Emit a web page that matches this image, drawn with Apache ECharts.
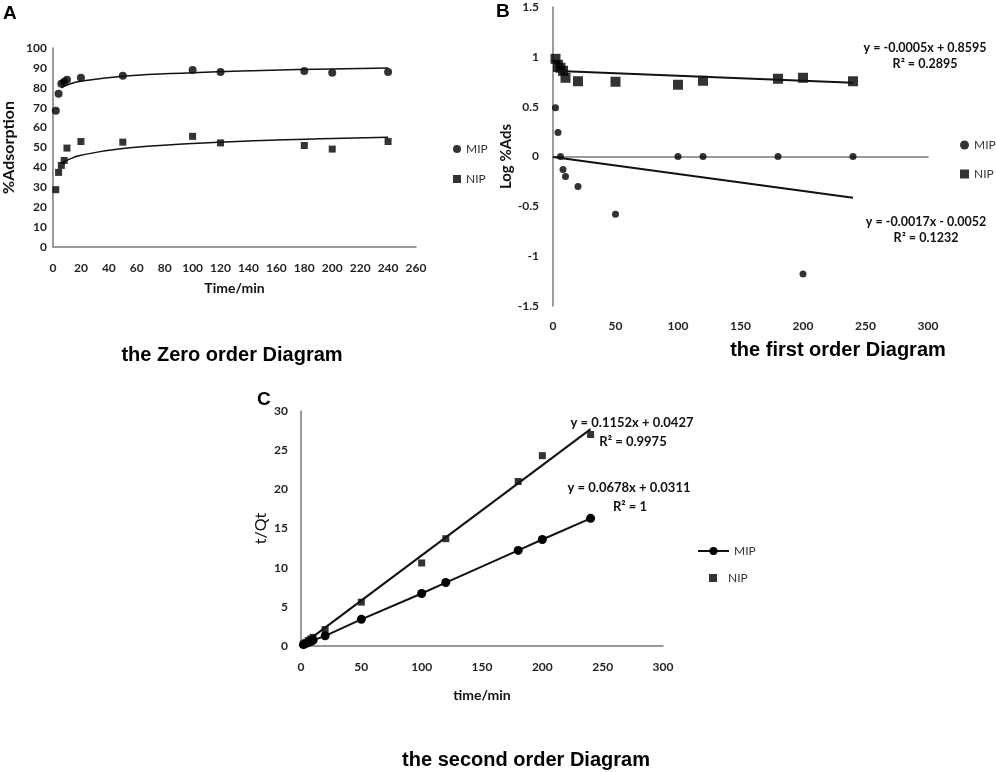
<!DOCTYPE html>
<html>
<head>
<meta charset="utf-8">
<script src="https://cdn.jsdelivr.net/npm/echarts@6/dist/echarts.min.js"></script>
<style>html,body{margin:0;padding:0;background:#fff}#c{width:996px;height:772px}</style>
</head>
<body>
<div id="c"></div>
<script>
// ---- data ----
const times = [2, 4, 6, 8, 10, 20, 50, 100, 120, 180, 200, 240];
// Panel A: zero order (%Adsorption)
const zeroMIP = [68.5, 77, 82, 83, 84, 85, 86.1, 89, 88, 88.5, 87.6, 88];
const zeroNIP = [28.8, 37.5, 41, 43.5, 49.7, 53, 52.7, 55.6, 52.3, 51, 49.2, 53];
// logarithmic trend curves
const zeroFitX = [6, 10, 20, 50, 100, 150, 200, 240];
const zeroFitMIP = [80.0, 81.4, 83.3, 85.8, 87.6, 88.7, 89.5, 90.0];
const zeroFitNIPX = [7, 10, 20, 50, 100, 150, 200, 240];
const zeroFitNIP = [42.3, 43.6, 46.1, 49.5, 52.0, 53.5, 54.5, 55.2];
// Panel B: first order (Log %Ads)
const firstMIP = [0.49, 0.24, 0, -0.13, -0.2, -0.3, -0.58, 0, 0, 0, -1.18, 0];
const firstNIP = [0.98, 0.92, 0.89, 0.86, 0.79, 0.755, 0.75, 0.72, 0.76, 0.78, 0.79, 0.755];
const firstFitX = [0, 240];
const firstFitNIP = [0.8595, 0.7395];
const firstFitMIP = [-0.0052, -0.4132];
// Panel C: second order (t/Qt)
const secondMIP = [0.17, 0.3, 0.44, 0.57, 0.71, 1.3, 3.4, 6.7, 8.1, 12.2, 13.6, 16.3];
const secondNIP = [0.25, 0.45, 0.7, 0.9, 1.1, 2.1, 5.6, 10.6, 13.7, 21, 24.3, 27];
const secondFitX = [0, 240];
const secondFitNIP = [0.0427, 27.69];
// tick settings
const zeroXTicks = {min: 0, max: 260, interval: 20};
const zeroYTicks = {min: 0, max: 100, interval: 10};
const firstXTicks = {min: 0, max: 300, interval: 50};
const firstYTicks = {min: -1.5, max: 1.5, interval: 0.5};
const secondXTicks = {min: 0, max: 300, interval: 50};
const secondYTicks = {min: 0, max: 30, interval: 5};
// texts
const eqFirstNIP = ['y = -0.0005x + 0.8595', 'R² = 0.2895'];
const eqFirstMIP = ['y = -0.0017x - 0.0052', 'R² = 0.1232'];
const eqSecondNIP = ['y = 0.1152x + 0.0427', 'R² = 0.9975'];
const eqSecondMIP = ['y = 0.0678x + 0.0311', 'R² = 1'];

const pair = (xs, ys) => xs.map((x, i) => [x, ys[i]]);

const FONT = 'Lato, "Open Sans", sans-serif';
const TICK = {fontFamily: FONT, fontWeight: 'bold', fontSize: 12, color: '#1f1f2a'};
const AXLINE = {show: true, onZero: true, lineStyle: {color: '#7a7a7a', width: 1.5}};

function valAxis(grid, t, extra) {
  return Object.assign({
    type: 'value', gridIndex: grid, min: t.min, max: t.max, interval: t.interval,
    axisLine: AXLINE, axisTick: {show: false}, splitLine: {show: false},
    axisLabel: Object.assign({}, TICK)
  }, extra || {});
}

const chart = echarts.init(document.getElementById('c'));
const nameFmt = n => n.split(':')[1];
const TITLE_FONT = 'bold 20px "Liberation Sans", Arial, sans-serif';

const option = {
  backgroundColor: '#fff',
  animation: false,
  grid: [
    {left: 52, top: 48, width: 364, height: 199},
    {left: 553, top: 7, width: 375, height: 299},
    {left: 301, top: 411, width: 362, height: 235}
  ],
  xAxis: [
    valAxis(0, zeroXTicks, {axisLabel: Object.assign({}, TICK, {margin: 15}),
      name: 'Time/min', nameLocation: 'middle', nameGap: 34,
      nameTextStyle: {fontFamily: FONT, fontWeight: 'bold', fontSize: 14, color: '#111'}}),
    valAxis(1, firstXTicks, {axisLabel: Object.assign({}, TICK, {margin: 14})}),
    valAxis(2, secondXTicks, {axisLabel: Object.assign({}, TICK, {margin: 15}),
      name: 'time/min', nameLocation: 'middle', nameGap: 42,
      nameTextStyle: {fontFamily: FONT, fontWeight: 'bold', fontSize: 14, color: '#111'}})
  ],
  yAxis: [
    valAxis(0, zeroYTicks, {axisLabel: Object.assign({}, TICK, {margin: 6}),
      name: '%Adsorption', nameLocation: 'middle', nameGap: 36,
      nameTextStyle: {fontFamily: FONT, fontWeight: 'bold', fontSize: 16, color: '#111'}}),
    valAxis(1, firstYTicks, {axisLabel: Object.assign({}, TICK, {margin: 14}),
      name: 'Log %Ads', nameLocation: 'middle', nameGap: 28,
      nameTextStyle: {fontFamily: FONT, fontWeight: 'bold', fontSize: 15, color: '#111'}}),
    valAxis(2, secondYTicks, {axisLabel: Object.assign({}, TICK, {margin: 13}),
      name: 't/Qt', nameLocation: 'middle', nameGap: 32,
      nameTextStyle: {fontFamily: FONT, fontSize: 16, color: '#111'}})
  ],
  legend: [
    {orient: 'vertical', left: 448, top: 138, itemWidth: 8, itemHeight: 8, itemGap: 18,
     formatter: nameFmt, textStyle: {fontFamily: FONT, fontSize: 12, color: '#333'},
     data: [{name: 'A:MIP', icon: 'circle'}, {name: 'A:NIP', icon: 'rect'}]},
    {orient: 'vertical', left: 960, top: 139, padding: 0, itemWidth: 9, itemHeight: 9, itemGap: 17,
     formatter: nameFmt, textStyle: {fontFamily: FONT, fontSize: 12, color: '#333'},
     data: [{name: 'B:MIP', icon: 'circle'}, {name: 'B:NIP', icon: 'rect'}]},
    {orient: 'vertical', left: 692, top: 540, itemWidth: 31, itemHeight: 10,
     formatter: nameFmt, textStyle: {fontFamily: FONT, fontSize: 12, color: '#333'},
     data: [{name: 'C:MIP'}]},
    {orient: 'vertical', left: 704, top: 567, itemWidth: 8, itemHeight: 8,
     formatter: nameFmt, textStyle: {fontFamily: FONT, fontSize: 12, color: '#333', padding: [0, 0, 0, 6]},
     data: [{name: 'C:NIP', icon: 'rect'}]}
  ],
  series: [
    // Panel A
    {name: 'A:MIP', type: 'scatter', xAxisIndex: 0, yAxisIndex: 0, symbol: 'circle', symbolSize: 8,
     itemStyle: {color: '#000'}, data: pair(times, zeroMIP)},
    {name: 'A:NIP', type: 'scatter', xAxisIndex: 0, yAxisIndex: 0, symbol: 'rect', symbolSize: 7,
     itemStyle: {color: '#000'}, data: pair(times, zeroNIP)},
    {name: 'A:fitMIP', type: 'line', xAxisIndex: 0, yAxisIndex: 0, smooth: true, showSymbol: false,
     lineStyle: {color: '#111', width: 1.5}, data: pair(zeroFitX, zeroFitMIP)},
    {name: 'A:fitNIP', type: 'line', xAxisIndex: 0, yAxisIndex: 0, smooth: true, showSymbol: false,
     lineStyle: {color: '#111', width: 1.5}, data: pair(zeroFitNIPX, zeroFitNIP)},
    // Panel B
    {name: 'B:MIP', type: 'scatter', xAxisIndex: 1, yAxisIndex: 1, symbol: 'circle', symbolSize: 7,
     itemStyle: {color: '#000'}, data: pair(times, firstMIP)},
    {name: 'B:NIP', type: 'scatter', xAxisIndex: 1, yAxisIndex: 1, symbol: 'rect', symbolSize: 10,
     itemStyle: {color: '#000'}, data: pair(times, firstNIP)},
    {name: 'B:fitNIP', type: 'line', xAxisIndex: 1, yAxisIndex: 1, showSymbol: false,
     lineStyle: {color: '#111', width: 2}, data: pair(firstFitX, firstFitNIP)},
    {name: 'B:fitMIP', type: 'line', xAxisIndex: 1, yAxisIndex: 1, showSymbol: false,
     lineStyle: {color: '#111', width: 2}, data: pair(firstFitX, firstFitMIP)},
    // Panel C
    {name: 'C:fitNIP', type: 'line', xAxisIndex: 2, yAxisIndex: 2, showSymbol: false,
     lineStyle: {color: '#111', width: 2}, data: pair(secondFitX, secondFitNIP)},
    {name: 'C:MIP', type: 'line', xAxisIndex: 2, yAxisIndex: 2, symbol: 'circle', symbolSize: 9,
     showAllSymbol: true, itemStyle: {color: '#000'}, lineStyle: {color: '#111', width: 2},
     data: pair(times, secondMIP)},
    {name: 'C:NIP', type: 'scatter', xAxisIndex: 2, yAxisIndex: 2, symbol: 'rect', symbolSize: 7,
     itemStyle: {color: '#000'}, data: pair(times, secondNIP)}
  ],
  graphic: [
    {type: 'text', left: 3, top: 4, style: {text: 'A', font: 'bold 19px "Liberation Sans", Arial, sans-serif', fill: '#000'}},
    {type: 'text', left: 496, top: 2, style: {text: 'B', font: 'bold 19px "Liberation Sans", Arial, sans-serif', fill: '#000'}},
    {type: 'text', left: 257, top: 390, style: {text: 'C', font: 'bold 19px "Liberation Sans", Arial, sans-serif', fill: '#000'}},
    {type: 'text', x: 232, y: 355, style: {text: 'the Zero order Diagram', font: TITLE_FONT, fill: '#000', textAlign: 'center', textVerticalAlign: 'middle'}},
    {type: 'text', x: 838, y: 350, style: {text: 'the first order Diagram', font: TITLE_FONT, fill: '#000', textAlign: 'center', textVerticalAlign: 'middle'}},
    {type: 'text', x: 526, y: 760, style: {text: 'the second order Diagram', font: TITLE_FONT, fill: '#000', textAlign: 'center', textVerticalAlign: 'middle'}},
    {type: 'text', x: 925, y: 48, style: {text: eqFirstNIP[0], font: 'bold 12.5px Lato, sans-serif', fill: '#111', textAlign: 'center', textVerticalAlign: 'middle'}},
    {type: 'text', x: 925, y: 64, style: {text: eqFirstNIP[1], font: 'bold 12.5px Lato, sans-serif', fill: '#111', textAlign: 'center', textVerticalAlign: 'middle'}},
    {type: 'text', x: 926, y: 222, style: {text: eqFirstMIP[0], font: 'bold 12.5px Lato, sans-serif', fill: '#111', textAlign: 'center', textVerticalAlign: 'middle'}},
    {type: 'text', x: 926, y: 238, style: {text: eqFirstMIP[1], font: 'bold 12.5px Lato, sans-serif', fill: '#111', textAlign: 'center', textVerticalAlign: 'middle'}},
    {type: 'text', x: 632, y: 423, style: {text: eqSecondNIP[0], font: 'bold 13px Lato, sans-serif', fill: '#111', textAlign: 'center', textVerticalAlign: 'middle'}},
    {type: 'text', x: 633, y: 442, style: {text: eqSecondNIP[1], font: 'bold 13px Lato, sans-serif', fill: '#111', textAlign: 'center', textVerticalAlign: 'middle'}},
    {type: 'text', x: 629, y: 488, style: {text: eqSecondMIP[0], font: 'bold 13px Lato, sans-serif', fill: '#111', textAlign: 'center', textVerticalAlign: 'middle'}},
    {type: 'text', x: 630, y: 507, style: {text: eqSecondMIP[1], font: 'bold 13px Lato, sans-serif', fill: '#111', textAlign: 'center', textVerticalAlign: 'middle'}}
  ]
};
chart.setOption(option);
</script>
</body>
</html>
